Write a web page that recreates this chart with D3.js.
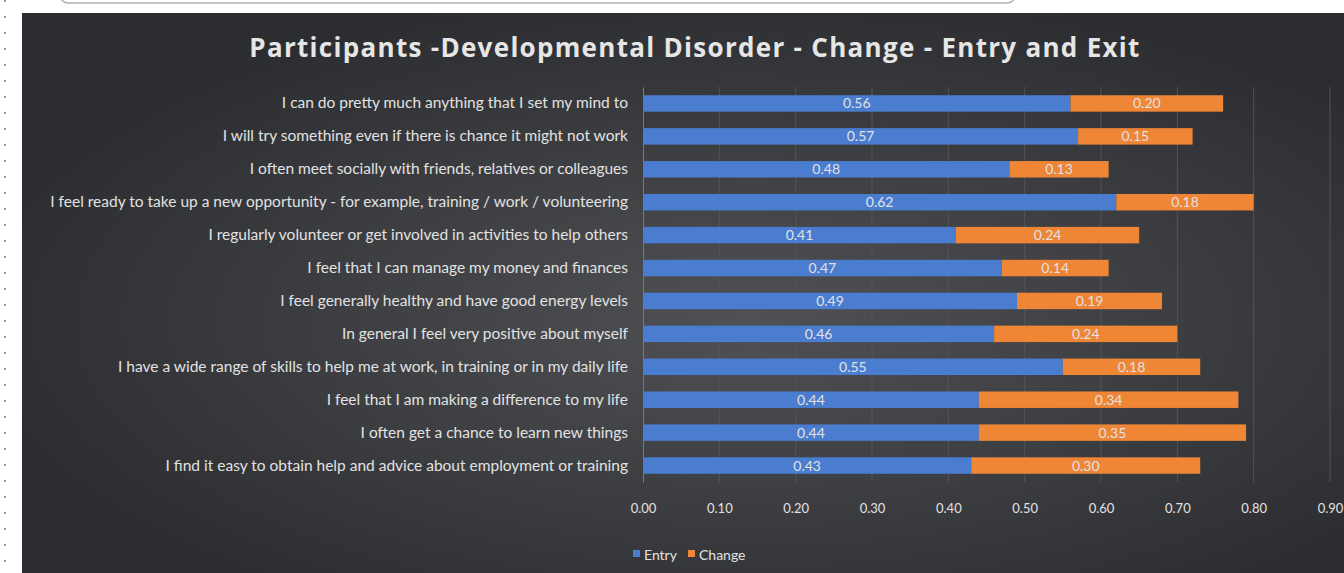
<!DOCTYPE html>
<html>
<head>
<meta charset="UTF-8">
<script src="https://cdn.jsdelivr.net/npm/d3@7"></script>
<style>
    body {
        margin: 0;
        background-color: #ffffff;
        overflow: hidden;
    }
    .lbl {
        font-family: 'Lato', sans-serif;
        fill: #e2e2e2;
    }
</style>
</head>
<body>
<svg id="chart" width="1344" height="573"></svg>
<script>
    // data
    var statements = [
        "I can do pretty much anything that I set my mind to",
        "I will try something even if there is chance it might not work",
        "I often meet socially with friends, relatives or colleagues",
        "I feel ready to take up a new opportunity - for example, training / work / volunteering",
        "I regularly volunteer or get involved in activities to help others",
        "I feel that I can manage my money and finances",
        "I feel generally healthy and have good energy levels",
        "In general I feel very positive about myself",
        "I have a wide range of skills to help me at work, in training or in my daily life",
        "I feel that I am making a difference to my life",
        "I often get a chance to learn new things",
        "I find it easy to obtain help and advice about employment or training"
    ];
    var entry = [0.56, 0.57, 0.48, 0.62, 0.41, 0.47, 0.49, 0.46, 0.55, 0.44, 0.44, 0.43];
    var change = [0.20, 0.15, 0.13, 0.18, 0.24, 0.14, 0.19, 0.24, 0.18, 0.34, 0.35, 0.30];
    var seriesNames = ["Entry", "Change"];
    var seriesColors = ["#4a7dcf", "#ee8636"];
    var xTicks = [0, 0.1, 0.2, 0.3, 0.4, 0.5, 0.6, 0.7, 0.8, 0.9];

    var svg = d3.select("#chart");

    // background gradient of the dark panel
    var defs = svg.append("defs");
    var grad = defs.append("radialGradient")
        .attr("id", "bg")
        .attr("cx", "0.55").attr("cy", "0.55").attr("r", "0.6");
    grad.append("stop").attr("offset", "0%").attr("stop-color", "#505155");
    grad.append("stop").attr("offset", "100%").attr("stop-color", "#2c2d30");

    // page bits around the chart
    svg.append("rect")
        .attr("x", 60).attr("y", -20).attr("width", 955).attr("height", 23)
        .attr("rx", 8)
        .attr("fill", "none").attr("stroke", "#b0b0b0").attr("stroke-width", 1.5);
    svg.append("line")
        .attr("x1", 5).attr("x2", 5).attr("y1", 0).attr("y2", 573)
        .attr("stroke", "#999").attr("stroke-width", 2)
        .attr("stroke-dasharray", "2,14");

    svg.append("rect")
        .attr("x", 22).attr("y", 13).attr("width", 1322).attr("height", 560)
        .attr("fill", "url(#bg)");

    // title
    svg.append("text")
        .attr("x", 695).attr("y", 57)
        .attr("text-anchor", "middle")
        .style("font-family", "'Open Sans', sans-serif")
        .style("font-weight", "bold")
        .style("font-size", "26px")
        .style("letter-spacing", "1.3px")
        .attr("fill", "#e6e6e6")
        .text("Participants -Developmental Disorder - Change - Entry and Exit");

    var x = d3.scaleLinear().domain([0, 0.9]).range([643, 1330]);
    var y = d3.scaleBand().domain(statements).range([87, 482])
        .paddingInner(0.5).paddingOuter(0.25);

    // gridlines
    svg.append("g")
        .selectAll("line")
        .data(xTicks.slice(1))
        .enter()
        .append("line")
        .attr("x1", function (d) { return x(d); })
        .attr("x2", function (d) { return x(d); })
        .attr("y1", 87).attr("y2", 482)
        .attr("stroke", "#535457").attr("stroke-width", 1);

    // x axis labels
    var xAxis = d3.axisBottom(x)
        .tickValues(xTicks)
        .tickFormat(d3.format(".2f"))
        .tickSize(0)
        .tickPadding(0);
    var gx = svg.append("g")
        .attr("transform", "translate(0,504)")
        .call(xAxis);
    gx.select(".domain").remove();
    gx.selectAll("text")
        .attr("class", "lbl")
        .style("font-size", "13px")
        .attr("fill", "#d8d8d8");

    // y axis
    var yAxis = d3.axisLeft(y).tickSize(0).tickPadding(15);
    var gy = svg.append("g")
        .attr("transform", "translate(643,0)")
        .call(yAxis);
    gy.select(".domain").attr("stroke", "#7a7a7c");
    gy.selectAll("text")
        .attr("class", "lbl")
        .style("font-size", "15.5px")
        .attr("fill", "#e4e4e4");

    // stacked bars
    var rows = statements.map(function (s, i) {
        return { label: s, Entry: entry[i], Change: change[i] };
    });
    var stack = d3.stack().keys(seriesNames);
    var layers = stack(rows);

    var layer = svg.append("g")
        .selectAll("g")
        .data(layers)
        .enter()
        .append("g")
        .attr("fill", function (d, i) { return seriesColors[i]; });

    layer.selectAll("rect")
        .data(function (d) { return d; })
        .enter()
        .append("rect")
        .attr("x", function (d) { return x(d[0]); })
        .attr("y", function (d) { return y(d.data.label); })
        .attr("width", function (d) { return x(d[1]) - x(d[0]); })
        .attr("height", y.bandwidth());

    layer.selectAll("text")
        .data(function (d) { return d; })
        .enter()
        .append("text")
        .attr("class", "lbl")
        .attr("x", function (d) { return (x(d[0]) + x(d[1])) / 2; })
        .attr("y", function (d) { return y(d.data.label) + y.bandwidth() / 2 + 5; })
        .attr("text-anchor", "middle")
        .style("font-size", "14px")
        .attr("fill", "#e8ecf4")
        .text(function (d) { return d3.format(".2f")(d[1] - d[0]); });

    // legend
    var legend = svg.append("g").attr("transform", "translate(633,560)");
    var item = legend.selectAll("g")
        .data(seriesNames)
        .enter()
        .append("g")
        .attr("transform", function (d, i) { return "translate(" + (i * 55) + ",0)"; });
    item.append("rect")
        .attr("x", 0).attr("y", -10).attr("width", 7).attr("height", 7)
        .attr("fill", function (d, i) { return seriesColors[i]; });
    item.append("text")
        .attr("class", "lbl")
        .attr("x", 11).attr("y", 0)
        .style("font-size", "14px")
        .attr("fill", "#d8d8d8")
        .text(function (d) { return d; });
</script>
</body>
</html>
